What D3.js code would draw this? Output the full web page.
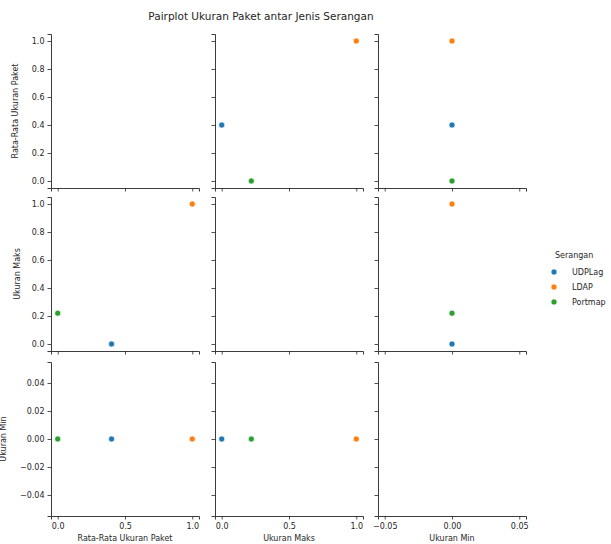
<!DOCTYPE html>
<html>
<head>
<meta charset="utf-8">
<script src="https://cdn.jsdelivr.net/npm/d3@7"></script>
<style>
  body { margin: 0; background: #fff; }
  text { font-family: "DejaVu Sans", sans-serif; fill: #262626; }
</style>
</head>
<body>
<div id="chart"></div>
<script>
// Data: one row per attack type
var attacks = ['UDPLag', 'LDAP', 'Portmap'];
var meanSize = [0.4, 1.0, 0.0];
var maxSize = [0.0, 1.0, 0.22];
var minSize = [0.0, 0.0, 0.0];
var varNames = ['Rata-Rata Ukuran Paket', 'Ukuran Maks', 'Ukuran Min'];
var varValues = [meanSize, maxSize, minSize];
var varDomains = [[-0.05, 1.05], [-0.05, 1.05], [-0.055, 0.055]];
var xTicks = [[0, 0.5, 1.0], [0, 0.5, 1.0], [-0.05, 0, 0.05]];
var yTicks = [[0, 0.2, 0.4, 0.6, 0.8, 1.0], [0, 0.2, 0.4, 0.6, 0.8, 1.0], [-0.04, -0.02, 0, 0.02, 0.04]];
var colors = ['#1f77b4', '#ff7f0e', '#2ca02c'];

(function() {
  var w = 611, h = 544;
  var svg = d3.select('#chart').append('svg').attr('width', w).attr('height', h);

  // Grid layout
  var colX = [51, 215, 378], cellW = 148;
  var rowY = [34, 197, 362], cellH = 154;
  var yLabelX = [18, 20, 6];

  var color = d3.scaleOrdinal().domain(attacks).range(colors);

  svg.append('text')
    .attr('x', 261).attr('y', 20)
    .attr('text-anchor', 'middle')
    .style('font-size', '10.5px')
    .text('Pairplot Ukuran Paket antar Jenis Serangan');

  for (var r = 0; r < 3; r++) {
    for (var c = 0; c < 3; c++) {
      var x = d3.scaleLinear().domain(varDomains[c]).range([colX[c], colX[c] + cellW]);
      var y = d3.scaleLinear().domain(varDomains[r]).range([rowY[r] + cellH, rowY[r]]);

      var fmtX = c === 2 ? d3.format('.2f') : d3.format('.1f');
      var fmtY = r === 2 ? d3.format('.2f') : d3.format('.1f');

      var xAxis = d3.axisBottom(x).tickValues(xTicks[c]).tickSize(3.5).tickPadding(4)
        .tickFormat(r === 2 ? function(d) { return fmtX(d).replace('-', '\u2212'); } : '');
      var yAxis = d3.axisLeft(y).tickValues(yTicks[r]).tickSize(3.5).tickPadding(3)
        .tickFormat(c === 0 ? function(d) { return fmtY(d).replace('-', '\u2212'); } : '');

      var gx = svg.append('g').attr('transform', 'translate(0,' + (rowY[r] + cellH) + ')').call(xAxis);
      var gy = svg.append('g').attr('transform', 'translate(' + colX[c] + ',0)').call(yAxis);
      [gx, gy].forEach(function(g) {
        g.select('.domain').attr('stroke', '#262626').attr('stroke-width', 0.9);
        g.selectAll('.tick line').attr('stroke', '#262626').attr('stroke-width', 0.8);
        g.selectAll('.tick text').style('font-size', '8px').attr('fill', '#262626')
          .style('font-family', '"DejaVu Sans", sans-serif');
      });

      // Off-diagonal scatter points
      if (r !== c) {
        svg.append('g').selectAll('circle')
          .data(attacks)
          .enter().append('circle')
          .attr('cx', function(d, i) { return x(varValues[c][i]); })
          .attr('cy', function(d, i) { return y(varValues[r][i]); })
          .attr('r', 3)
          .attr('fill', function(d) { return color(d); })
          .attr('stroke', '#fff')
          .attr('stroke-width', 0.6);
      }

      if (c === 0) {
        var cy = rowY[r] + cellH / 2;
        svg.append('text')
          .attr('transform', 'translate(' + yLabelX[r] + ',' + cy + ') rotate(-90)')
          .attr('text-anchor', 'middle')
          .style('font-size', '8px')
          .text(varNames[r]);
      }
      if (r === 2) {
        svg.append('text')
          .attr('x', colX[c] + cellW / 2).attr('y', 541)
          .attr('text-anchor', 'middle')
          .style('font-size', '8px')
          .text(varNames[c]);
      }
    }
  }

  // Legend
  var lg = svg.append('g');
  lg.append('text').attr('x', 555).attr('y', 258).attr('text-anchor', 'start')
    .style('font-size', '8px').text('Serangan');
  attacks.forEach(function(a, i) {
    var yy = 272 + i * 15;
    lg.append('circle').attr('cx', 554).attr('cy', yy).attr('r', 3)
      .attr('fill', color(a)).attr('stroke', '#fff').attr('stroke-width', 0.6);
    lg.append('text').attr('x', 572).attr('y', yy + 3)
      .style('font-size', '8px').text(a);
  });
})();
</script>
</body>
</html>
